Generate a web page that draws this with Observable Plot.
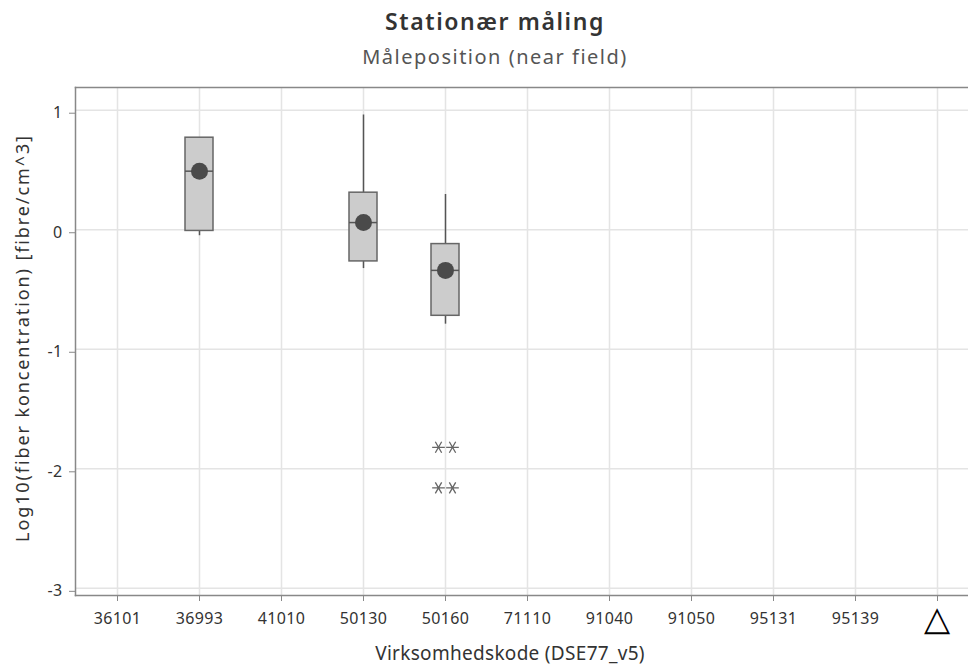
<!DOCTYPE html>
<html><head><meta charset="utf-8">
<script src="https://cdn.jsdelivr.net/npm/d3@7"></script>
<script src="https://cdn.jsdelivr.net/npm/@observablehq/plot@0.6"></script>
<style>
body{margin:0;background:#fff;overflow:hidden;font-family:"Noto Sans",sans-serif}
#head{height:60px;position:relative;width:990px}
#t{position:absolute;left:0;width:990px;text-align:center;top:6px;font-size:23px;font-weight:600;color:#333;line-height:30px;letter-spacing:1.6px}
#s{position:absolute;left:0;width:990px;text-align:center;top:44px;font-size:20px;color:#555;line-height:26px;letter-spacing:1.5px}
svg text{letter-spacing:0.4px}
</style></head>
<body>
<div id="head"><div id="t">Stationær måling</div><div id="s">Måleposition (near field)</div></div>
<div id="chart"></div>
<script>
const codes = ["36101","36993","41010","50130","50160","71110","91040","91050","95131","95139","△"];
const boxCodes = ["36993","50130","50160"];
const q1 = [-0.01, -0.265, -0.72];
const medians = [0.49, 0.06, -0.34];
const q3 = [0.77, 0.31, -0.12];
const whiskerLow = [-0.05, -0.325, -0.79];
const whiskerHigh = [0.77, 0.96, 0.295];
const means = [0.49, 0.06, -0.34];
const outlierCodes = ["50160","50160","50160","50160"];
const outlierValues = [-1.82, -1.82, -2.16, -2.16];
const yTicks = [-3, -2, -1, 0, 1];
const yTitle = "Log10(fiber koncentration) [fibre/cm^3]";
const xTitle = "Virksomhedskode (DSE77_v5)";

const boxes = boxCodes.map((c, i) => ({code: c, q1: q1[i], med: medians[i], q3: q3[i], lo: whiskerLow[i], hi: whiskerHigh[i], mean: means[i]}));
const outliers = outlierCodes.map((c, i) => ({code: c, value: outlierValues[i], k: i % 2}));

const chart = Plot.plot({
  width: 968,
  height: 608,
  marginLeft: 75,
  marginRight: 0,
  marginTop: 27,
  marginBottom: 73,
  style: {fontFamily: "'Noto Sans', sans-serif", color: "#333", background: "#fff", display: "block"},
  x: {type: "band", domain: codes, range: [75, 978], paddingInner: 0.66, paddingOuter: 0.33},
  y: {domain: [-3.06, 1.19]},
  marks: [
    Plot.gridY(yTicks, {stroke: "#e4e4e4", strokeOpacity: 1, strokeWidth: 1.5}),
    Plot.gridX(codes, {stroke: "#e4e4e4", strokeOpacity: 1, strokeWidth: 1.5}),
    Plot.frame({anchor: "left", stroke: "#888", strokeWidth: 1.5}),
    Plot.frame({anchor: "top", stroke: "#888", strokeWidth: 1.5}),
    Plot.frame({anchor: "bottom", stroke: "#888", strokeWidth: 1.5}),
    Plot.axisY(yTicks, {tickSize: 6, tickPadding: 7, fontSize: 16, stroke: "#888", label: null, dy: 3, tickFormat: d => d}),
    Plot.axisX(codes, {tickSize: 6, tickPadding: 11, fontSize: 16, stroke: "#888", label: null, tickFormat: d => d === "△" ? "" : d}),
    Plot.text(["△"], {x: d => d, frameAnchor: "bottom", dy: 24, fontSize: 34, fill: "#000", lineAnchor: "middle"}),
    Plot.ruleX(boxes, {x: "code", y1: "q3", y2: "hi", stroke: "#555", strokeWidth: 1.5}),
    Plot.ruleX(boxes, {x: "code", y1: "lo", y2: "q1", stroke: "#555", strokeWidth: 1.5}),
    Plot.barY(boxes, {x: "code", y1: "q1", y2: "q3", fill: "#cccccc", stroke: "#666", strokeWidth: 1.5}),
    Plot.tickY(boxes, {x: "code", y: "med", stroke: "#555", strokeWidth: 1.5}),
    Plot.dot(boxes, {x: "code", y: "mean", r: 8.5, fill: "#4a4a4a", stroke: "none"}),
    Plot.dot(outliers.filter(d => d.k === 0), {x: "code", y: "value", symbol: "asterisk", rotate: 90, r: 6, stroke: "#666", strokeWidth: 1.3, dx: -7}),
    Plot.dot(outliers.filter(d => d.k === 1), {x: "code", y: "value", symbol: "asterisk", rotate: 90, r: 6, stroke: "#666", strokeWidth: 1.3, dx: 7}),
    Plot.text([yTitle], {frameAnchor: "left", dx: -52, dy: -3.5, rotate: -90, fontSize: 18, fill: "#333", textAnchor: "middle", lineAnchor: "middle"}),
    Plot.text([xTitle], {frameAnchor: "bottom", dx: -12, dy: 58, fontSize: 19, fill: "#333", textAnchor: "middle", lineAnchor: "middle"})
  ]
});
d3.select(chart).selectAll("text").filter(function() { return this.textContent === yTitle; }).style("letter-spacing", "1.9px");
d3.select(chart).selectAll("text").filter(function() { return this.textContent === xTitle; }).style("letter-spacing", "0.3px");
document.getElementById("chart").appendChild(chart);
</script>
</body></html>
